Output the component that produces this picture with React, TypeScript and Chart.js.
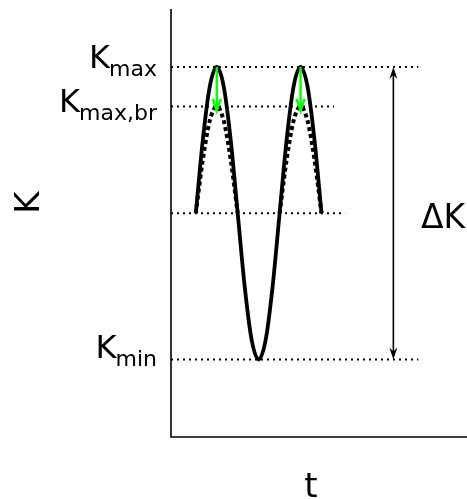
import { useEffect, useRef } from 'react';
import { Chart, registerables } from 'chart.js';

Chart.register(...registerables);

// time axis in quarter periods; K normalised: mean 0, Kmax 1, Kmin -1
const curveT = [0, 1 / 3, 2 / 3, 1, 4 / 3, 5 / 3, 2, 7 / 3, 8 / 3, 3, 10 / 3, 11 / 3, 4, 13 / 3, 14 / 3, 5, 16 / 3, 17 / 3, 6];
const curveK = [0, 0.5, 0.866, 1, 0.866, 0.5, 0, -0.5, -0.866, -1, -0.866, -0.5, 0, 0.5, 0.866, 1, 0.866, 0.5, 0];

const brT1 = [0, 1 / 3, 2 / 3, 1, 4 / 3, 5 / 3, 2];
const brT2 = [4, 13 / 3, 14 / 3, 5, 16 / 3, 17 / 3, 6];
const brK = [0, 0.365, 0.632, 0.73, 0.632, 0.365, 0];

const levelValues = [1, 0.73, 0, -1];
const levelEnds = [10.62, 6.6, 7.13, 10.62];
const levelLabelSubs = ['max', 'max,br', '', 'min'];

const greenArrowT = [1, 5];
const greenArrowFrom = 1;
const greenArrowTo = 0.7;

const deltaArrowT = 9.43;
const deltaArrowFrom = 1;
const deltaArrowTo = -1;

const xMin = -1.184;
const xMax = 12.945;
const yMin = -1.529;
const yMax = 1.396;

const FONT = '"DejaVu Sans", sans-serif';

function pts(xs: number[], ys: number[]) {
  return xs.map((x, i) => ({ x, y: ys[i] }));
}

export default function App() {
  const ref = useRef<HTMLCanvasElement>(null);

  useEffect(() => {
    if (!ref.current) return;

    const overlay = {
      id: 'overlay',
      afterDraw(chart: any) {
        const ctx = chart.ctx as CanvasRenderingContext2D;
        const xs = chart.scales.x;
        const ys = chart.scales.y;
        const ca = chart.chartArea;
        ctx.save();

        // spines
        ctx.strokeStyle = '#000';
        ctx.lineWidth = 1.6;
        ctx.setLineDash([]);
        ctx.beginPath();
        ctx.moveTo(ca.left, ca.top);
        ctx.lineTo(ca.left, ca.bottom);
        ctx.lineTo(ca.right, ca.bottom);
        ctx.stroke();

        // green arrows
        ctx.strokeStyle = '#00ff00';
        ctx.lineWidth = 2.4;
        greenArrowT.forEach((t) => {
          const px = xs.getPixelForValue(t);
          const y0 = ys.getPixelForValue(greenArrowFrom);
          const y1 = ys.getPixelForValue(greenArrowTo);
          ctx.beginPath();
          ctx.moveTo(px, y0);
          ctx.lineTo(px, y1);
          ctx.stroke();
          ctx.beginPath();
          ctx.moveTo(px - 4, y1 - 12);
          ctx.lineTo(px, y1);
          ctx.lineTo(px + 4, y1 - 12);
          ctx.stroke();
        });

        // delta K double arrow
        const dx = xs.getPixelForValue(deltaArrowT);
        const dTop = ys.getPixelForValue(deltaArrowFrom);
        const dBot = ys.getPixelForValue(deltaArrowTo);
        ctx.strokeStyle = '#000';
        ctx.fillStyle = '#000';
        ctx.lineWidth = 1.6;
        ctx.beginPath();
        ctx.moveTo(dx, dTop + 4);
        ctx.lineTo(dx, dBot - 4);
        ctx.stroke();
        const head = (tipY: number, dir: number) => {
          ctx.beginPath();
          ctx.moveTo(dx, tipY);
          ctx.lineTo(dx - 4, tipY + dir * 12);
          ctx.lineTo(dx, tipY + dir * 8);
          ctx.lineTo(dx + 4, tipY + dir * 12);
          ctx.closePath();
          ctx.fill();
        };
        head(dTop, 1);
        head(dBot, -1);

        // level labels
        const rightEdge = 157;
        const baseOffsets = [1, 5.5, 0, -2];
        levelValues.forEach((v, i) => {
          const sub = levelLabelSubs[i];
          if (!sub) return;
          const py = ys.getPixelForValue(v) + baseOffsets[i];
          ctx.fillStyle = '#000';
          ctx.textBaseline = 'alphabetic';
          ctx.font = `22px ${FONT}`;
          ctx.textAlign = 'right';
          const w = ctx.measureText(sub).width;
          ctx.fillText(sub, rightEdge, py + 8.5);
          ctx.font = `32px ${FONT}`;
          ctx.fillText('K', rightEdge - w + 1, py);
        });

        // Delta K label
        ctx.font = `33px ${FONT}`;
        ctx.textAlign = 'left';
        ctx.textBaseline = 'alphabetic';
        ctx.fillText('ΔK', 421, ys.getPixelForValue(0) + 15);

        // axis labels
        ctx.font = `34px ${FONT}`;
        ctx.textAlign = 'center';
        ctx.fillText('t', 311, 497);
        ctx.save();
        ctx.translate(39, 202.5);
        ctx.rotate(-Math.PI / 2);
        ctx.fillText('K', 0, 0);
        ctx.restore();

        ctx.restore();
      },
    };

    const guideSets = levelValues.map((v, i) => ({
      data: [
        { x: xMin, y: v },
        { x: levelEnds[i], y: v },
      ],
      borderColor: '#000',
      borderWidth: 2,
      borderDash: [2, 4],
      pointRadius: 0,
      showLine: true,
      tension: 0,
    }));

    const chart = new Chart(ref.current, {
      type: 'scatter',
      data: {
        datasets: [
          ...guideSets,
          {
            data: pts(brT1, brK),
            borderColor: '#000',
            borderWidth: 4,
            borderDash: [4, 3],
            pointRadius: 0,
            showLine: true,
            cubicInterpolationMode: 'monotone',
          },
          {
            data: pts(brT2, brK),
            borderColor: '#000',
            borderWidth: 4,
            borderDash: [4, 3],
            pointRadius: 0,
            showLine: true,
            cubicInterpolationMode: 'monotone',
          },
          {
            data: pts(curveT, curveK),
            borderColor: '#000',
            borderWidth: 3.8,
            pointRadius: 0,
            showLine: true,
            cubicInterpolationMode: 'monotone',
          },
        ] as any,
      },
      options: {
        animation: false,
        responsive: false,
        devicePixelRatio: 1,
        layout: { padding: { left: 171, top: 9, right: 0, bottom: 62 } },
        plugins: { legend: { display: false }, tooltip: { enabled: false } },
        events: [],
        scales: {
          x: { type: 'linear', min: xMin, max: xMax, display: false },
          y: { type: 'linear', min: yMin, max: yMax, display: false },
        },
      },
      plugins: [overlay],
    });

    return () => chart.destroy();
  }, []);

  return (
    <div style={{ position: 'absolute', left: 0, top: 0, width: 467, height: 499, background: '#fff' }}>
      <canvas ref={ref} width={467} height={499} style={{ width: 467, height: 499 }} />
    </div>
  );
}
